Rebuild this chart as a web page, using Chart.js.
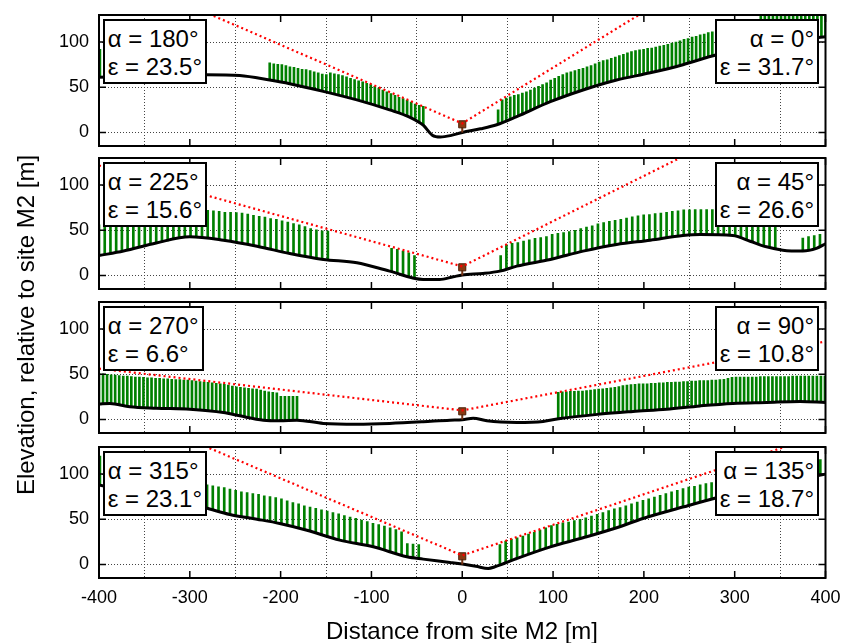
<!DOCTYPE html>
<html>
<head>
<meta charset="utf-8">
<script src="https://cdn.jsdelivr.net/npm/chart.js@4.4.1/dist/chart.umd.min.js"></script>
<style>
  html, body { margin: 0; padding: 0; background: #fff; }
  #fig { position: relative; width: 842px; height: 643px; overflow: hidden;
         font-family: "Liberation Sans", Arial, Helvetica, sans-serif; color: #000; }
  #fig canvas { position: absolute; left: 0; }
  .note { position: absolute; border: 2px solid #000; background: #fff; font-size: 24px;
          line-height: 28.4px; padding: 4px 3px 0 3px; white-space: nowrap; }
  .note.right { text-align: right; }
  #xtitle { position: absolute; left: 0; width: 924px; top: 617px; text-align: center; font-size: 24px; line-height: 28px; }
  #ytitle { position: absolute; left: -174px; top: 311px; width: 400px; text-align: center; font-size: 24px;
            line-height: 28px; transform: rotate(-90deg); }
</style>
</head>
<body>
<div id="fig">
  <div id="xtitle">Distance from site M2 [m]</div>
  <div id="ytitle">Elevation, relative to site M2 [m]</div>
</div>
<script>
/* ======================
   Terrain profiles around site M2, four azimuth pairs
====================== */

// axes
const xTicks = [-400, -300, -200, -100, 0, 100, 200, 300, 400];
const yTicks = [0, 50, 100];

// azimuth (alpha) and horizon elevation (epsilon) for the left / right half of each panel
const alphaLeft = [180, 225, 270, 315];
const alphaRight = [0, 45, 90, 135];
const epsLeft = [23.5, 15.6, 6.6, 23.1];
const epsRight = [31.7, 26.6, 10.8, 18.7];

// height of the instrument and of the sight line start at site M2 [m]
const siteHeight = 9;
const beamHeight = 10;

// sample spacing of the vegetation bars [m]
const stepAxis = 4.45;   // 0, 90, 180, 270
const stepDiag = 6.3;    // 45, 135, 225, 315

// ground profiles (distance, elevation)
const ground1X = [-400, -340, -282, -245, -212, -190, -153, -116, -80, -58, -43, -33, -24, -13, 0, 20, 38, 60, 97, 133, 170, 207, 243, 280, 320, 360, 400];
const ground1Y = [61, 63, 64, 63, 58, 54, 45.5, 36, 25, 17, 8, -3, -5, -3.5, 0, 4, 8.5, 17.5, 34, 47, 58, 66, 75, 86, 95, 101, 106];

const ground2X = [-400, -373, -337, -300, -263, -226, -190, -153, -116, -80, -43, -25, -10, 0, 23, 41.5, 60, 97, 133, 170, 207, 243, 262, 298, 317, 335, 353, 375, 390, 400];
const ground2Y = [22, 27, 36, 42.8, 39, 32.4, 24.3, 17.7, 14, 4.8, -4.4, -4.4, -1.5, 0.5, 2.2, 4.8, 10.3, 17.7, 26.9, 34.3, 39, 44.2, 45.4, 44.2, 37.9, 31.7, 28, 27, 30, 35];

const ground3X = [-400, -388, -366, -337, -300, -263, -245, -219, -201, -182, -153, -116, -80, -43, -13.5, 0, 12, 27, 60, 89, 108, 152, 188, 225, 262, 298, 335, 372, 400];
const ground3Y = [17, 17.7, 14, 12.5, 11.4, 7.7, 4, -0.8, -1.5, -0.8, -4.4, -5.2, -4.4, -2.6, -0.8, -0.4, 1.4, -1.5, -3.3, -2.2, 1.1, 5.9, 8.8, 11.4, 15, 17.7, 18.8, 19.9, 18.8];

const ground4X = [-400, -340, -283, -256, -226, -201, -171, -135, -98, -61, -43, -13.5, 0, 15, 28.6, 36, 60, 97, 133, 170, 199, 244, 280, 320, 360, 400];
const ground4Y = [88, 76, 62.7, 55.3, 50.1, 45.4, 37.9, 26.9, 19.5, 8.5, 5.9, 2.2, 0.4, -2, -4.4, -2.6, 6.6, 19.5, 29.5, 40.6, 50.9, 63.8, 73.8, 84, 92, 100];

// canopy tops of the vegetation bars [m]
const canopy1Edge = [92];
const canopy1West = [77, 76, 75.5, 75, 74, 72.5, 72, 71, 70, 69.5, 68.5, 67, 66, 64.5, 64, 66, 65, 64, 63, 61.5,
  60, 58.5, 57, 56, 54.5, 53, 51, 49, 47, 45, 43, 41, 39, 37.5, 35.5, 33.5, 31.5, 30, 29];
const canopy1East = [25, 36, 38, 39.5, 41, 42, 43.5, 45, 47, 49, 51, 53, 55, 58, 60, 62, 64, 66, 67, 68.5,
  70, 71, 72.5, 74, 76, 78, 79.5, 80.5, 82, 83.5, 85, 86.5, 88, 89.5, 90.5, 91.5, 92, 93, 93.5, 94.5,
  95.5, 96.5, 97.5, 99, 100, 101.5, 103, 104, 105.5, 106.5, 108, 109, 110.5, 111.5, 113, 114, 115.5, 117, 118, 119.5,
  121, 122, 123, 124, 125, 132, 134, 135, 136, 137, 138, 138, 139, 139, 140, 140, 140, 141, 141, 141, 142, 142];

const canopy2West = [56, 58, 59, 60, 61, 62, 63, 64, 65, 66, 67, 68, 69, 70, 70, 71, 71, 72, 72, 72,
  71.5, 71, 70, 70, 69.5, 69, 68, 66.5, 65.5, 64.5, 63, 62, 60.5, 59, 57.5, 56, 54, 52, 50.5, 49.5, 49];
const canopy2Mid = [30, 29, 27, 25, 22];
const canopy2East = [22, 34, 35.5, 36.5, 38, 39.5, 41, 42, 43, 45.5, 46.5, 47.5, 48.5, 50, 52, 53.5, 55, 57, 58.5, 60,
  61, 62, 63.5, 65, 66, 67, 67.5, 68.5, 69, 70, 71, 71.5, 72.5, 72.5, 73, 73, 73, 73, 72.5, 72,
  71, 70, 68, 66, 64, 62, 60, 58, 57];
const canopy2FarEast = [41.5, 43, 44, 45.5];

const canopy3West = [51, 50.5, 50, 49.5, 49, 48.5, 48, 48, 47.5, 47, 47, 46.5, 46, 46, 45.5, 45.5, 45, 45, 44.5, 44,
  44, 43.5, 43.5, 43, 42.5, 42, 41.5, 41, 40.5, 40, 39.5, 39, 38, 37, 36, 35.5, 35, 34.5, 34, 33.5,
  32.5, 31.5, 30.5, 30, 29.5, 25.5, 25.5, 25.5, 25.5, 25.5];
const canopy3East = [30, 30.5, 30.5, 31, 31, 31.5, 31.5, 32, 32.5, 33, 33.5, 34, 34.5, 35, 35.5, 36.5, 37.5, 38, 38.5, 39,
  39.5, 39.5, 39.5, 40, 40, 40.5, 40.5, 41, 41, 41.5, 41.5, 42, 42, 42.5, 42.5, 43, 43, 43, 43.5, 43.5,
  44, 44.5, 45.5, 46.5, 47, 47, 47, 47, 47, 47, 47.5, 47.5, 47.5, 47.5, 47.5, 47.5, 47.5, 47.5,
  48, 48, 48, 48, 48, 48, 48, 48, 48];

const canopy4Edge = [120, 118];
const canopy4West = [88, 87, 86, 85, 83.5, 82, 80.5, 79.5, 78.5, 77.5, 76, 75, 74, 72.5, 70.5, 68.5, 67, 65, 63.5, 62,
  60.5, 59, 57.5, 56, 54, 52.5, 51, 49, 47.5, 45.5, 44, 42.5, 40.5, 38.5, 36, 23, 22.5, 22];
const canopy4East = [22, 26, 28, 29.5, 31.5, 33.5, 35.5, 38, 40.5, 43, 44.5, 46, 47, 48.5, 50, 51.5, 53.5, 55.5, 57.5, 59.5,
  61.5, 63, 65, 67, 69, 71, 72.5, 74.5, 76.5, 78.5, 80.5, 82, 84, 85.5, 86.5, 88, 89.5, 90.5, 92, 93.5,
  95, 96.5, 98, 99.5, 101, 102.5, 104, 105.5, 107, 108.5, 110, 111, 112, 113, 114, 115, 116];

// vegetation groups per panel: [first bar distance, spacing, canopy tops]
const vegetation = [
  [[-399, stepAxis, canopy1Edge], [-212, stepAxis, canopy1West], [39.5, stepAxis, canopy1East]],
  [[-400, stepDiag, canopy2West], [-77.8, stepDiag, canopy2Mid], [42.3, stepDiag, canopy2East], [375, stepDiag, canopy2FarEast]],
  [[-400, stepAxis, canopy3West], [105.7, stepAxis, canopy3East]],
  [[-399, stepDiag, canopy4Edge], [-281, stepDiag, canopy4West], [41.5, stepDiag, canopy4East]]
];
const groundX = [ground1X, ground2X, ground3X, ground4X];
const groundY = [ground1Y, ground2Y, ground3Y, ground4Y];

// layout
const FONT = '"Liberation Sans", Arial, Helvetica, sans-serif';
const panelTop = [15, 158, 302, 447];
const panelH = 131;
const PAD = 6;
const AXIS_W = 99;
const XAXIS_H = 65;
const fig = document.getElementById("fig");

// the trees stand on the ground line
function groundAt(gx, gy, x) {
  if (x <= gx[0]) return gy[0];
  for (let i = 1; i < gx.length; i++) {
    if (x <= gx[i]) {
      const t = (x - gx[i - 1]) / (gx[i] - gx[i - 1]);
      return gy[i - 1] + t * (gy[i] - gy[i - 1]);
    }
  }
  return gy[gy.length - 1];
}

// box frame + inward tick marks (matlab style)
const framePlugin = {
  id: "frame",
  afterDraw(chart) {
    const { ctx, chartArea: a, scales } = chart;
    ctx.save();
    ctx.strokeStyle = "#000";
    ctx.lineWidth = 1.5;
    ctx.beginPath();
    xTicks.forEach(v => {
      const px = scales.x.getPixelForValue(v);
      ctx.moveTo(px, a.top); ctx.lineTo(px, a.top + 7);
      ctx.moveTo(px, a.bottom); ctx.lineTo(px, a.bottom - 7);
    });
    yTicks.forEach(v => {
      const py = scales.y.getPixelForValue(v);
      ctx.moveTo(a.left, py); ctx.lineTo(a.left + 7, py);
      ctx.moveTo(a.right, py); ctx.lineTo(a.right - 7, py);
    });
    ctx.stroke();
    ctx.lineWidth = 2;
    ctx.strokeRect(a.left, a.top, a.right - a.left, a.bottom - a.top);
    ctx.restore();
  }
};

function addNote(top, area, side, alpha, eps) {
  const box = document.createElement("div");
  box.className = "note " + side;
  [`α = ${alpha}°`, `ε = ${eps}°`].forEach(t => {
    const line = document.createElement("div");
    line.textContent = t;
    box.appendChild(line);
  });
  box.style.top = (top + area.top + 4) + "px";
  if (side === "left") box.style.left = (area.left + 3.7) + "px";
  else box.style.right = (842 - area.right + 6.5) + "px";
  fig.appendChild(box);
}

const rad = d => d * Math.PI / 180;

for (let p = 0; p < 4; p++) {
  const isBottom = p === 3;
  const gx = groundX[p], gy = groundY[p];
  const canvasTop = panelTop[p] - PAD;
  const canvasH = PAD + panelH + (isBottom ? XAXIS_H : PAD);

  const cv = document.createElement("canvas");
  cv.width = 842;
  cv.height = canvasH;
  cv.style.top = canvasTop + "px";
  fig.insertBefore(cv, fig.firstChild);

  const bars = [];
  vegetation[p].forEach(([start, step, tops]) => {
    tops.forEach((top, i) => {
      const x = start + i * step;
      bars.push({ x, y: [groundAt(gx, gy, x), top] });
    });
  });

  const beam = [
    { x: -400, y: beamHeight + 400 * Math.tan(rad(epsLeft[p])) },
    { x: 0, y: beamHeight },
    { x: 400, y: beamHeight + 400 * Math.tan(rad(epsRight[p])) }
  ];

  const chart = new Chart(cv, {
    type: "line",
    data: {
      datasets: [
        { type: "bar", data: bars, backgroundColor: "#008000", barThickness: 2, grouped: false, order: 5 },
        { data: gx.map((x, i) => ({ x, y: gy[i] })), borderColor: "#000", borderWidth: 3,
          cubicInterpolationMode: "monotone", pointRadius: 0, order: 4 },
        { data: [{ x: 0, y: 0 }, { x: 0, y: siteHeight }], borderColor: "#7a3414", borderWidth: 2,
          pointRadius: [0, 5], pointStyle: "rect", pointBackgroundColor: "#8c3a12",
          pointBorderColor: "#4a2008", pointBorderWidth: 1, order: 3 },
        { data: beam, borderColor: "#ff0000", borderWidth: 2.2, borderDash: [2, 3], pointRadius: 0, order: 2 }
      ]
    },
    options: {
      responsive: false,
      animation: false,
      events: [],
      layout: { autoPadding: false, padding: { top: PAD, bottom: isBottom ? 0 : PAD, left: 0, right: 16.5 } },
      plugins: { legend: { display: false }, tooltip: { enabled: false } },
      scales: {
        x: {
          type: "linear", min: -400, max: 400, offset: false,
          ticks: { display: isBottom, stepSize: 100, autoSkip: false, maxRotation: 0, padding: 9,
                   color: "#000", font: { family: FONT, size: 18 } },
          grid: { color: "#444", lineWidth: 1, drawTicks: false },
          border: { display: false, dash: [1, 2] },
          afterFit: s => { s.height = isBottom ? XAXIS_H : 0; s.paddingLeft = 0; s.paddingRight = 0; }
        },
        y: {
          type: "linear", min: -15, max: 130,
          afterBuildTicks: s => { s.ticks = yTicks.map(v => ({ value: v })); },
          ticks: { padding: 10, color: "#000", font: { family: FONT, size: 18 } },
          grid: { color: "#444", lineWidth: 1, drawTicks: false },
          border: { display: false, dash: [1, 2] },
          afterFit: s => { s.width = AXIS_W; s.paddingTop = 0; s.paddingBottom = 0; }
        }
      }
    },
    plugins: [framePlugin]
  });

  addNote(canvasTop, chart.chartArea, "left", alphaLeft[p], epsLeft[p]);
  addNote(canvasTop, chart.chartArea, "right", alphaRight[p], epsRight[p]);
}
</script>
</body>
</html>
